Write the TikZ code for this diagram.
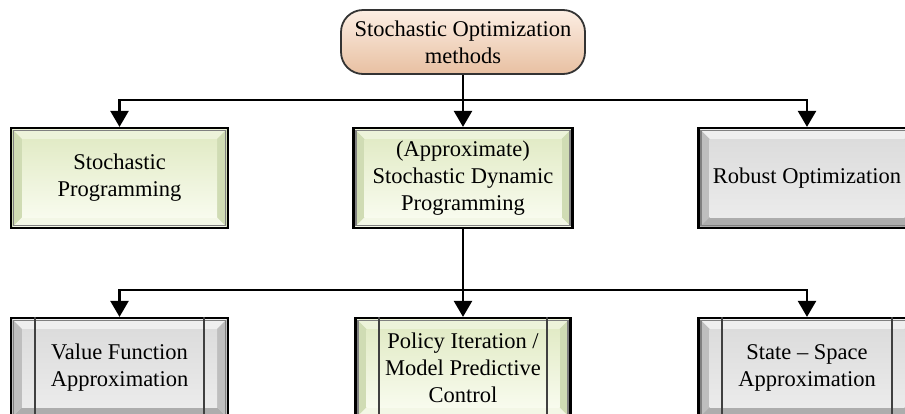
\documentclass[tikz,border=0pt]{standalone}
\usepackage{fontspec}
\setmainfont{Liberation Serif}
\usetikzlibrary{arrows.meta,calc}

\definecolor{gface}{HTML}{E2EBC6}
\definecolor{glight}{HTML}{F8FBEE}
\definecolor{gside}{HTML}{D0DCB4}
\definecolor{gtop}{HTML}{EDF3DA}
\definecolor{gbot}{HTML}{F3F7E6}
\definecolor{sface}{HTML}{DCDCDC}
\definecolor{slight}{HTML}{EBEBEB}
\definecolor{sside}{HTML}{BEBEBE}
\definecolor{stop}{HTML}{EFEFEF}
\definecolor{sbot}{HTML}{ADADAD}
\definecolor{ptop}{HTML}{FCEEE3}
\definecolor{pmid}{HTML}{F4D6C0}
\definecolor{pbot}{HTML}{E8C0A2}

\tikzset{
  bevelbox/.style n args={5}{
    rectangle, inner sep=0pt, align=center,
    minimum width=217pt, minimum height=100pt,
    font=\fontsize{22.5}{27}\selectfont,
    draw=black, line width=2.2pt, fill=#1,
    path picture={
      \coordinate (NW) at (path picture bounding box.north west);
      \coordinate (NE) at (path picture bounding box.north east);
      \coordinate (SW) at (path picture bounding box.south west);
      \coordinate (SE) at (path picture bounding box.south east);
      \fill[#4] (NW) -- (NE) -- ([xshift=-11pt,yshift=-11pt]NE) -- ([xshift=11pt,yshift=-11pt]NW) -- cycle;
      \fill[#5] (SW) -- (SE) -- ([xshift=-11pt,yshift=11pt]SE) -- ([xshift=11pt,yshift=11pt]SW) -- cycle;
      \fill[#3] (NW) -- ([xshift=11pt,yshift=-11pt]NW) -- ([xshift=11pt,yshift=11pt]SW) -- (SW) -- cycle;
      \fill[#3] (NE) -- ([xshift=-11pt,yshift=-11pt]NE) -- ([xshift=-11pt,yshift=11pt]SE) -- (SE) -- cycle;
      \shade[top color=#1, bottom color=#2] ([xshift=11pt,yshift=-11pt]NW) rectangle ([xshift=-11pt,yshift=11pt]SE);
      \draw[gray, line width=1.6pt] ([xshift=2.6pt,yshift=-2.6pt]NW) rectangle ([xshift=-2.6pt,yshift=2.6pt]SE);
    }
  },
  greenbox/.style={bevelbox={gface}{glight}{gside}{gtop}{gbot}},
  graybox/.style={bevelbox={sface}{slight}{sside}{stop}{sbot}},
  procbar/.style={draw=black!75, line width=2pt},
  topnode/.style={
    rectangle, rounded corners=22pt, inner sep=0pt, align=center,
    minimum width=244pt, minimum height=64pt,
    font=\fontsize{22.5}{27}\selectfont,
    draw=black!80, line width=1.8pt,
    top color=ptop, middle color=pmid, bottom color=pbot
  },
  arr/.style={draw=black, line width=2.4pt, -{Triangle[length=16pt,width=18pt]}},
  ln/.style={draw=black, line width=2.4pt}
}

\begin{document}
\begin{tikzpicture}[x=1pt,y=-1pt]
\clip (0,0) rectangle (905,413);

\node[topnode] (top) at (463,42) {Stochastic Optimization\\methods};

\node[greenbox] (sp) at (119.5,178) {Stochastic\\Programming};
\node[greenbox, minimum width=219pt] (sdp) at (463,178) {(Approximate)\\Stochastic Dynamic\\Programming};
\node[graybox] (ro) at (807,178) {Robust Optimization};

\node[graybox] (vfa) at (119.5,368) {Value Function\\Approximation};
\node[greenbox, minimum width=215pt] (pi) at (463,368) {Policy Iteration /\\Model Predictive\\Control};
\node[graybox] (ssa) at (807,368) {State -- Space\\Approximation};

\foreach \b in {vfa,pi,ssa}{
  \draw[procbar] ([xshift=25pt]\b.north west) -- ([xshift=25pt]\b.south west);
  \draw[procbar] ([xshift=-25pt]\b.north east) -- ([xshift=-25pt]\b.south east);
}

\coordinate (j1) at (463,100);
\coordinate (j2) at (463,290);

\draw[ln] (top.south) -- (j1);
\draw[arr] (j1) -| (sp.north);
\draw[arr] (j1) -- (sdp.north);
\draw[arr] (j1) -| (ro.north);

\draw[ln] (sdp.south) -- (j2);
\draw[arr] (j2) -| (vfa.north);
\draw[arr] (j2) -- (pi.north);
\draw[arr] (j2) -| (ssa.north);
\end{tikzpicture}
\end{document}
